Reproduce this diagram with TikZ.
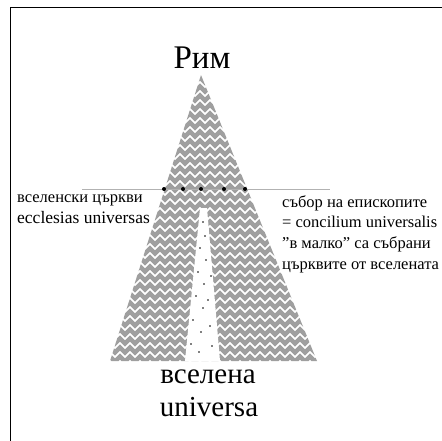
\documentclass[tikz,border=0pt]{standalone}
\usepackage{fontspec}
\setmainfont{Liberation Serif}
\begin{document}
\begin{tikzpicture}[x=1pt,y=-1pt,
  big/.style={font=\fontsize{29}{33}\selectfont, inner sep=0pt},
  small/.style={font=\fontsize{16.5}{20.7}\selectfont, inner sep=0pt, align=left},
  wave/.style={draw=gray!75, line width=4.3pt, line join=miter},
  knot/.style={circle, fill=black, inner sep=0pt, minimum size=4pt}]
\useasboundingbox (0,0) rectangle (442,440);
\draw[line width=0.9pt] (10,460) -- (10,7) -- (460,7);
% triangle with zigzag fill
\coordinate (apex) at (201,75);
\coordinate (bl) at (110,361);
\coordinate (br) at (317,361);
\begin{scope}
  \clip (apex) -- (br) -- (bl) -- cycle;
  \foreach \y in {71,80,...,368} {
    \draw[wave] (95,\y) \foreach \x in {100,110,...,340} { -- (\x-5,\y+2.5) -- (\x,\y-2.5) };
  }
\end{scope}
% dotted white strip
\fill[white] (200,208) -- (207,208) -- (220,361) -- (185,361) -- cycle;
\foreach \x/\y in {203/222,205/236,200/248,206/260,198/272,204/284,196/296,203/308,
                   193/320,201/332,210/326,191/344,199/352,212/346,208/300,211/276} {
  \fill (\x,\y) circle (0.9pt);
}
% horizontal line and knots
\coordinate (hl) at (82,189);
\coordinate (hr) at (330,189);
\draw[gray!60, line width=0.6pt] (hl) -- (hr);
\foreach \x [count=\i] in {164,183,201,224,245} {
  \node[knot] (k\i) at (\x,189) {};
}
% labels
\node[big, font=\fontsize{33}{36}\selectfont, anchor=base] (rim) at (202,68) {Рим};
\node[big, anchor=base] (vs) at (208,383) {вселена};
\node[big, anchor=base] (un) at (209,416) {universa};
\node[small, anchor=north west] (left) at (17,195) {{\fontsize{16.5}{20.7}\selectfont вселенски църкви}\\{\fontsize{17.5}{20.7}\selectfont ecclesias universas}};
\node[small, anchor=north west] (right) at (282,195) {събор на епископите\\= concilium universalis\\"в малко" са събрани\\църквите от вселената};
\end{tikzpicture}
\end{document}
